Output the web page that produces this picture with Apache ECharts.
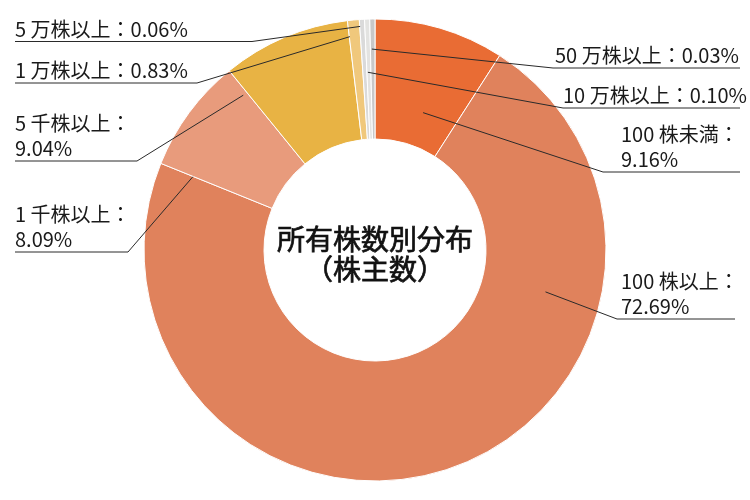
<!DOCTYPE html>
<html><head><meta charset="utf-8">
<script src="https://cdn.jsdelivr.net/npm/echarts@6/dist/echarts.min.js"></script>
<style>html,body{margin:0;padding:0;background:#fff}#c{width:750px;height:500px}</style>
</head><body><div id="c"></div>
<script>
// ---- data ----
const categories = ['100 株未満', '100 株以上', '1 千株以上', '5 千株以上', '1 万株以上', '5 万株以上', '10 万株以上', '50 万株以上'];
const shares = [9.16, 72.69, 8.09, 9.04, 0.83, 0.06, 0.10, 0.03];
const centerTitle = ['所有株数別分布', '（株主数）'];

// ---- styles / label layout ----
const colors = ['#E96C34', '#E0825C', '#E89B7C', '#E8B344', '#F0C87C', '#DADADA', '#E3E3E1', '#C8C8C8'];
const twoLine = [true, true, true, true, false, false, false, false];
const labelSpots = [
  { x: 621, y: 172, ang: 19.3,  rf: 0.63, elbow: 603, end: 740 },
  { x: 621, y: 319, ang: 103.8, rf: 0.76, elbow: 617, end: 735 },
  { x: 15,  y: 252, ang: 291.9, rf: 0.85, elbow: 128, end: 15 },
  { x: 15,  y: 161, ang: 319.6, rf: 0.88, elbow: 137, end: 15 },
  { x: 15,  y: 83,  ang: 353.3, rf: 0.93, elbow: 197, end: 15 },
  { x: 15,  y: 41.5,ang: 356.2, rf: 0.97, elbow: 252, end: 15 },
  { x: 563, y: 108, ang: 357.7, rf: 0.77, elbow: 563, end: 740 },
  { x: 555, y: 68,  ang: 359.1, rf: 0.87, elbow: 553, end: 740 }
];
const OUTER_R = 231, INNER_R = 111;

const chart = echarts.init(document.getElementById('c'), null, { renderer: 'canvas' });
const font = '"Noto Sans CJK JP", "Noto Sans", sans-serif';

const pieData = categories.map((name, i) => ({
  name: name,
  value: shares[i],
  itemStyle: { color: colors[i] }
}));
const labelData = categories.map((name, i) => ({ name: name, value: shares[i] }));

const common = {
  type: 'pie',
  center: ['50%', '50%'],
  radius: [INNER_R, OUTER_R],
  startAngle: 90,
  clockwise: true,
  minAngle: 1.3,
  avoidLabelOverlap: false,
  silent: true,
  emphasis: { disabled: true }
};

chart.setOption({
  animation: false,
  backgroundColor: '#fff',
  graphic: [{
    type: 'text',
    left: 'center',
    top: 224,
    z: 100,
    style: {
      text: centerTitle.join('\n'),
      textAlign: 'center',
      fill: '#111',
      fontSize: 28,
      fontWeight: 'normal',
      lineHeight: 30,
      fontFamily: font,
      stroke: '#111',
      lineWidth: 0.7
    }
  }],
  series: [
    Object.assign({}, common, {
      z: 2,
      itemStyle: { borderColor: '#fff', borderWidth: 1 },
      label: { show: false },
      labelLine: { show: false },
      data: pieData
    }),
    Object.assign({}, common, {
      z: 5,
      itemStyle: { color: 'rgba(0,0,0,0)', borderWidth: 0 },
      label: {
        show: true,
        position: 'outside',
        color: '#1a1a1a',
        fontSize: 20,
        lineHeight: 25,
        fontFamily: font,
        formatter: function (p) {
          const v = shares[p.dataIndex].toFixed(2) + '%';
          return p.name + '：' + (twoLine[p.dataIndex] ? '\n' : '') + v;
        }
      },
      labelLine: {
        show: true,
        length: 10,
        length2: 10,
        lineStyle: { color: '#2a2a2a', width: 1 }
      },
      labelLayout: function (params) {
        const s = labelSpots[params.dataIndex];
        const cx = chart.getWidth() / 2, cy = chart.getHeight() / 2;
        const a = s.ang * Math.PI / 180;
        const r = OUTER_R * s.rf;
        const sx = cx + r * Math.sin(a), sy = cy - r * Math.cos(a);
        return {
          x: s.x,
          y: s.y,
          align: 'left',
          verticalAlign: 'bottom',
          labelLinePoints: [[sx, sy], [s.elbow, s.y], [s.end, s.y]]
        };
      },
      data: labelData
    })
  ]
});
</script>
</body></html>
